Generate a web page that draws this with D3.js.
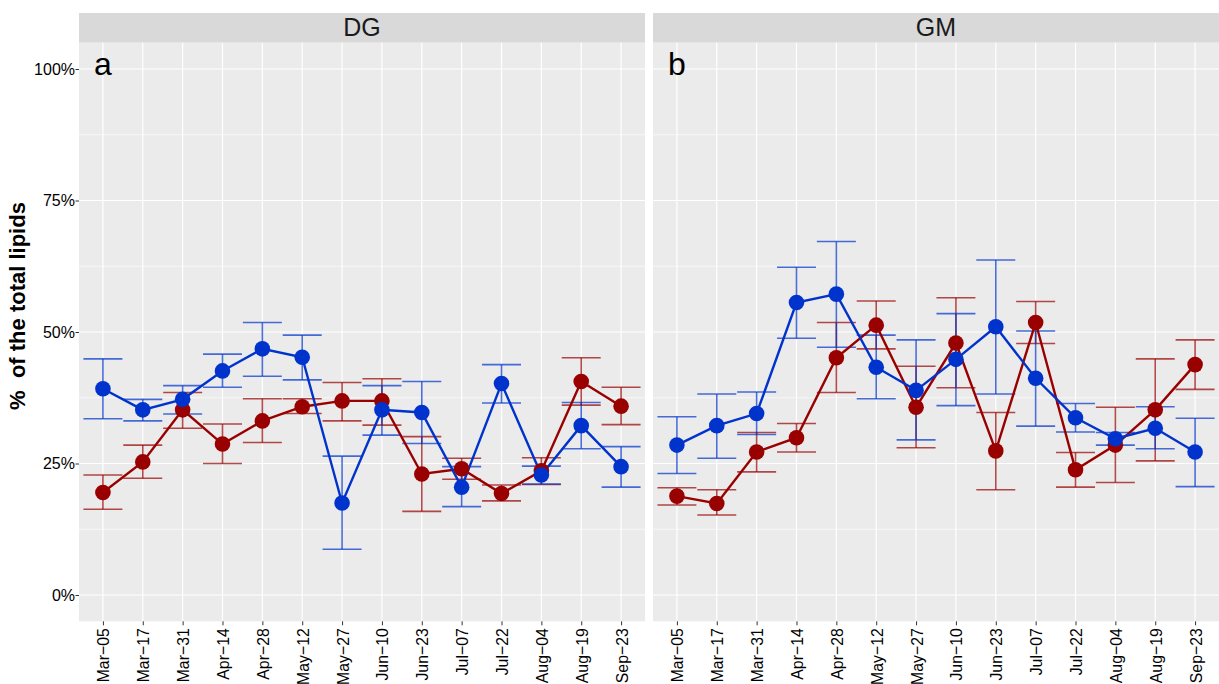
<!DOCTYPE html>
<html>
<head>
<meta charset="utf-8">
<script src="https://cdn.jsdelivr.net/npm/d3@7"></script>
<style>
  body { margin: 0; background: #fff; }
  text { font-family: "Liberation Sans", Arial, sans-serif; }
</style>
</head>
<body>
<div id="chart"></div>
<script>
// sampling dates (x categories)
var dates = ["Mar\u221205", "Mar\u221217", "Mar\u221231", "Apr\u221214", "Apr\u221228", "May\u221212", "May\u221227",
             "Jun\u221210", "Jun\u221223", "Jul\u221207", "Jul\u221222", "Aug\u221204", "Aug\u221219", "Sep\u221223"];
var facets = ["DG", "GM"];
var facetLetters = ["a", "b"];
var yTicks = [0, 25, 50, 75, 100];

// DG panel, red series (mean, upper, lower) in %
var dgRed   = [19.5, 25.3, 35.2, 28.7, 33.1, 35.8, 36.9, 36.9, 23.0, 24.0, 19.3, 23.6, 40.6, 35.9];
var dgRedHi = [22.8, 28.5, 38.5, 32.5, 37.3, 37.3, 40.4, 41.1, 30.1, 26.0, 20.9, 26.1, 45.1, 39.5];
var dgRedLo = [16.3, 22.2, 31.7, 25.0, 29.0, 34.5, 33.1, 32.3, 15.9, 22.0, 17.9, 21.0, 36.1, 32.4];
// DG panel, blue series
var dgBlue   = [39.2, 35.2, 37.2, 42.6, 46.8, 45.2, 17.5, 35.2, 34.7, 20.5, 40.2, 22.8, 32.2, 24.4];
var dgBlueHi = [44.9, 37.2, 39.8, 45.8, 51.8, 49.4, 26.4, 39.8, 40.6, 24.4, 43.8, 24.5, 36.6, 28.2];
var dgBlueLo = [33.5, 33.1, 34.4, 39.5, 41.6, 40.9, 8.7, 30.4, 28.8, 16.8, 36.5, 21.1, 27.8, 20.5];

// GM panel, red series
var gmRed   = [18.8, 17.4, 27.2, 29.9, 45.1, 51.3, 35.7, 47.9, 27.4, 51.8, 23.8, 28.5, 35.2, 43.8];
var gmRedHi = [20.4, 20.0, 30.9, 32.6, 51.8, 55.9, 43.5, 56.5, 34.7, 55.8, 27.1, 35.7, 44.9, 48.5];
var gmRedLo = [17.1, 15.2, 23.4, 27.2, 38.5, 46.8, 28.0, 39.4, 20.0, 47.8, 20.5, 21.4, 25.5, 39.1];
// GM panel, blue series
var gmBlue   = [28.5, 32.2, 34.5, 55.6, 57.2, 43.3, 38.9, 44.8, 51.0, 41.2, 33.7, 29.7, 31.7, 27.2];
var gmBlueHi = [33.9, 38.2, 38.6, 62.3, 67.2, 49.4, 48.5, 53.5, 63.7, 50.2, 36.4, 30.9, 35.8, 33.6];
var gmBlueLo = [23.1, 26.0, 30.5, 48.8, 47.1, 37.3, 29.5, 36.0, 38.2, 32.1, 31.0, 28.5, 27.8, 20.6];

var redColor = "#990000", blueColor = "#0033CC";

var width = 1219, height = 684;
var panelTop = 42.7, panelBottom = 621.3, stripTop = 13;
var panelX = [[79, 645], [653, 1219]];

var svg = d3.select("#chart")
  .append("svg")
    .attr("width", width)
    .attr("height", height);

var yScale = d3.scaleLinear()
    .domain([-5, 105])
    .range([panelBottom, panelTop]);

var minorTicks = [12.5, 37.5, 62.5, 87.5];

var panelData = [
  [ { col: redColor, v: dgRed, hi: dgRedHi, lo: dgRedLo },
    { col: blueColor, v: dgBlue, hi: dgBlueHi, lo: dgBlueLo } ],
  [ { col: redColor, v: gmRed, hi: gmRedHi, lo: gmRedLo },
    { col: blueColor, v: gmBlue, hi: gmBlueHi, lo: gmBlueLo } ]
];

facets.forEach(function(facet, p) {
    var x0 = panelX[p][0], x1 = panelX[p][1];
    var xScale = d3.scalePoint()
        .domain(dates)
        .range([x0, x1])
        .padding(0.6);

    var g = svg.append("g");

    // strip
    g.append("rect")
        .attr("x", x0).attr("y", stripTop)
        .attr("width", x1 - x0).attr("height", panelTop - stripTop)
        .attr("fill", "#D9D9D9");
    g.append("text")
        .attr("x", (x0 + x1) / 2).attr("y", 35.5)
        .attr("text-anchor", "middle")
        .style("font-size", "25px")
        .attr("fill", "#1A1A1A")
        .text(facet);

    // panel background
    g.append("rect")
        .attr("x", x0).attr("y", panelTop)
        .attr("width", x1 - x0).attr("height", panelBottom - panelTop)
        .attr("fill", "#EBEBEB");

    // grid
    g.selectAll(".minor").data(minorTicks).enter().append("line")
        .attr("x1", x0).attr("x2", x1)
        .attr("y1", function(d) { return yScale(d); })
        .attr("y2", function(d) { return yScale(d); })
        .attr("stroke", "#fff").attr("stroke-width", 0.6);
    g.selectAll(".major").data(yTicks).enter().append("line")
        .attr("x1", x0).attr("x2", x1)
        .attr("y1", function(d) { return yScale(d); })
        .attr("y2", function(d) { return yScale(d); })
        .attr("stroke", "#fff").attr("stroke-width", 1.2);
    g.selectAll(".vgrid").data(dates).enter().append("line")
        .attr("x1", function(d) { return xScale(d); })
        .attr("x2", function(d) { return xScale(d); })
        .attr("y1", panelTop).attr("y2", panelBottom)
        .attr("stroke", "#fff").attr("stroke-width", 1.2);

    // panel letter
    g.append("text")
        .attr("x", x0 + 15).attr("y", 75)
        .style("font-size", "32px")
        .attr("fill", "#000")
        .text(facetLetters[p]);

    var series = panelData[p];

    // error bars
    series.forEach(function(s) {
        var eb = g.append("g")
            .attr("stroke", s.col)
            .attr("stroke-opacity", 0.7)
            .attr("stroke-width", 1.6);
        eb.selectAll(".v").data(dates).enter().append("line")
            .attr("x1", function(d) { return xScale(d); })
            .attr("x2", function(d) { return xScale(d); })
            .attr("y1", function(d, i) { return yScale(s.hi[i]); })
            .attr("y2", function(d, i) { return yScale(s.lo[i]); });
        eb.selectAll(".t").data(dates).enter().append("line")
            .attr("x1", function(d) { return xScale(d) - 19.5; })
            .attr("x2", function(d) { return xScale(d) + 19.5; })
            .attr("y1", function(d, i) { return yScale(s.hi[i]); })
            .attr("y2", function(d, i) { return yScale(s.hi[i]); });
        eb.selectAll(".b").data(dates).enter().append("line")
            .attr("x1", function(d) { return xScale(d) - 19.5; })
            .attr("x2", function(d) { return xScale(d) + 19.5; })
            .attr("y1", function(d, i) { return yScale(s.lo[i]); })
            .attr("y2", function(d, i) { return yScale(s.lo[i]); });
    });

    // lines
    series.forEach(function(s) {
        var line = d3.line()
            .x(function(d, i) { return xScale(dates[i]); })
            .y(function(d) { return yScale(d); });
        g.append("path")
            .datum(s.v)
            .attr("d", line)
            .attr("fill", "none")
            .attr("stroke", s.col)
            .attr("stroke-width", 2.4);
    });

    // points
    series.forEach(function(s) {
        g.append("g").selectAll("circle").data(s.v).enter().append("circle")
            .attr("cx", function(d, i) { return xScale(dates[i]); })
            .attr("cy", function(d) { return yScale(d); })
            .attr("r", 7.8)
            .attr("fill", s.col);
    });

    // x axis
    var xAxis = d3.axisBottom(xScale).tickSize(4).tickPadding(3);
    var xg = svg.append("g")
        .attr("transform", "translate(0," + panelBottom + ")")
        .call(xAxis);
    xg.select(".domain").remove();
    xg.selectAll(".tick line").attr("stroke", "#333");
    xg.selectAll(".tick text")
        .attr("transform", "rotate(-90) scale(0.93,1)")
        .attr("x", -7.5).attr("y", 0).attr("dy", "0.35em")
        .style("text-anchor", "end")
        .style("font-size", "17px")
        .attr("fill", "#000");

    // y axis on first panel only
    if (p === 0) {
        var yAxis = d3.axisLeft(yScale)
            .tickValues(yTicks)
            .tickFormat(function(d) { return d + "%"; })
            .tickSize(3.5).tickPadding(0.5);
        var yg = svg.append("g")
            .attr("transform", "translate(" + x0 + ",0)")
            .call(yAxis);
        yg.select(".domain").remove();
        yg.selectAll(".tick line").attr("stroke", "#333");
        yg.selectAll(".tick text")
            .style("font-size", "16px")
            .attr("fill", "#000");
    }
});

// y axis title
svg.append("text")
    .attr("transform", "translate(25,306) rotate(-90)")
    .attr("text-anchor", "middle")
    .style("font-size", "22px")
    .style("font-weight", "bold")
    .attr("fill", "#000")
    .style("white-space", "pre")
    .text("%  of the total lipids");
</script>
</body>
</html>
